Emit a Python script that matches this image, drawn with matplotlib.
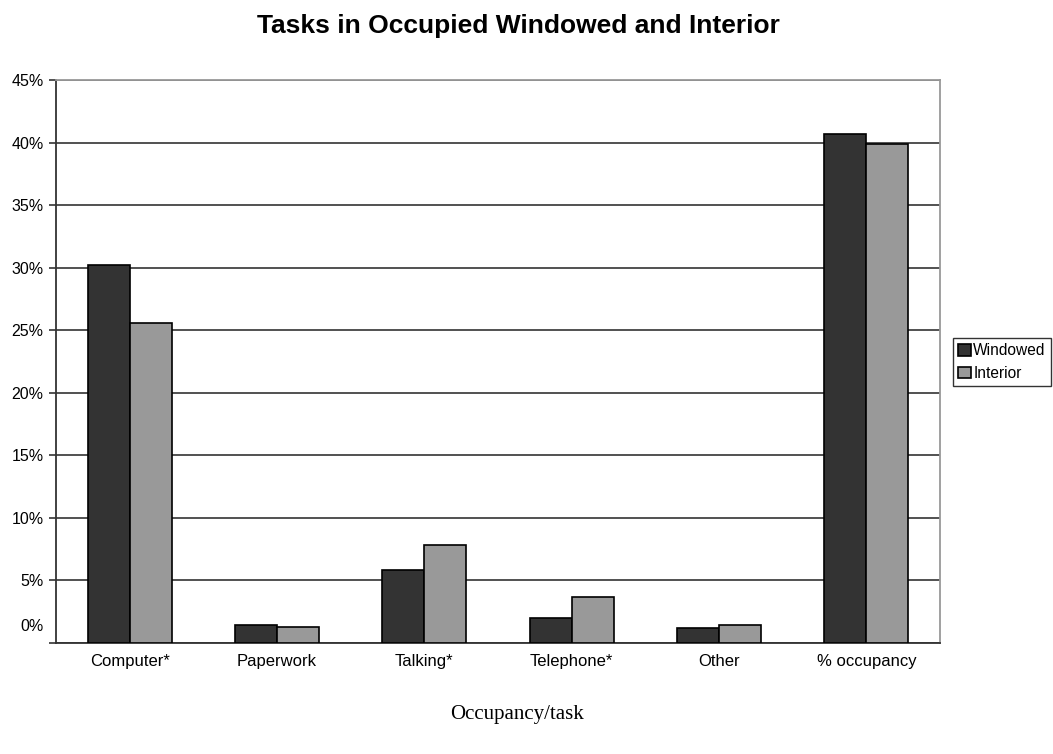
import matplotlib.pyplot as plt
import numpy as np
from matplotlib.transforms import ScaledTranslation

categories = ['Computer*', 'Paperwork', 'Talking*', 'Telephone*', 'Other', '% occupancy']
windowed = [30.2, 1.4, 5.8, 2.0, 1.2, 40.7]
interior = [25.6, 1.3, 7.8, 3.7, 1.45, 39.9]
yticks = [0, 5, 10, 15, 20, 25, 30, 35, 40, 45]

plt.rcParams['font.family'] = ['Liberation Sans', 'DejaVu Sans']

fig = plt.figure(figsize=(10.53, 7.54), dpi=100)
ax = fig.add_axes([56/1053, 1-643/754, 884/1053, 563/754])

x = np.arange(len(categories))
w = 0.285
ax.bar(x - w/2, windowed, w, color='#333333', edgecolor='black', linewidth=1.2,
       label='Windowed', zorder=3)
ax.bar(x + w/2, interior, w, color='#999999', edgecolor='black', linewidth=1.2,
       label='Interior', zorder=3)

ax.set_xlim(-0.5, len(categories) - 0.5)
ax.set_ylim(0, 45)
ax.set_xticks(x)
ax.set_xticklabels(categories, fontsize=12)
ax.tick_params(axis='x', length=0, pad=8)
ax.set_yticks(yticks)
ax.set_yticklabels(['%d%%' % v for v in yticks], fontsize=11.5)
ax.tick_params(axis='y', length=5, width=1.2, color='#333333', pad=4)

# the 0% label sits above the axis line in the original
lab0 = ax.get_yticklabels()[0]
lab0.set_transform(lab0.get_transform() + ScaledTranslation(0, 18/100, fig.dpi_scale_trans))

ax.yaxis.grid(True, color='#333333', linewidth=1.2, zorder=0)
ax.set_axisbelow(True)
for s in ['left', 'bottom']:
    ax.spines[s].set_color('#333333')
    ax.spines[s].set_linewidth(1.3)
for s in ['top', 'right']:
    ax.spines[s].set_color('#999999')
    ax.spines[s].set_linewidth(1.3)

fig.text(518/1053, 1-26/754, 'Tasks in Occupied Windowed and Interior',
         ha='center', va='center', fontsize=19, fontweight='bold')
fig.text(517/1053, 1-714/754, 'Occupancy/task', ha='center', va='center',
         fontsize=15, family='Liberation Serif')

leg = ax.legend(loc='center left', bbox_to_anchor=(953/1053, 1-362/754),
                bbox_transform=fig.transFigure, fontsize=11.2, frameon=True,
                fancybox=False, edgecolor='black', handlelength=0.8,
                handleheight=0.8, handletextpad=0.15, borderpad=0.35,
                labelspacing=0.5, borderaxespad=0)
leg.get_frame().set_linewidth(1.0)

fig.savefig('out.png', dpi=100)
